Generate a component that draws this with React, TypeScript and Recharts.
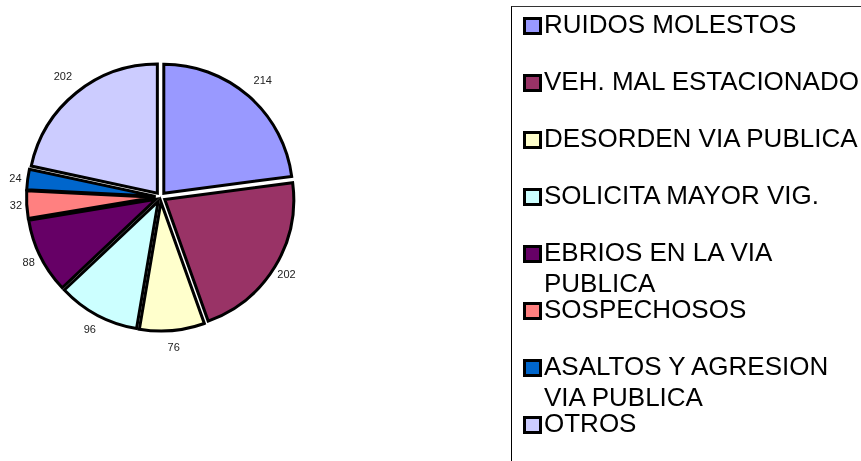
import React from "react";
import { PieChart, Pie, Cell, Legend, Sector } from "recharts";

const categories = [
  "RUIDOS MOLESTOS",
  "VEH. MAL ESTACIONADO",
  "DESORDEN VIA PUBLICA",
  "SOLICITA MAYOR VIG.",
  "EBRIOS EN LA VIA PUBLICA",
  "SOSPECHOSOS",
  "ASALTOS Y AGRESION VIA PUBLICA",
  "OTROS",
];
const values = [214, 202, 76, 96, 88, 32, 24, 202];
const colors = ["#9999FF", "#993366", "#FFFFCC", "#CCFFFF", "#660066", "#FF8080", "#0066CC", "#CCCCFF"];

const data = categories.map((name, i) => ({ name, value: values[i] }));

const RAD = Math.PI / 180;
const EXPLODE = 5;

const ExplodedSector = (props: any) => {
  const { cx, cy, midAngle } = props;
  const dx = EXPLODE * Math.cos(midAngle * RAD);
  const dy = -EXPLODE * Math.sin(midAngle * RAD);
  return <Sector {...props} cx={cx + dx} cy={cy + dy} />;
};

const renderLabel = (props: any) => {
  const { cx, cy, midAngle, outerRadius, value } = props;
  const s = Math.sin(midAngle * RAD);
  const c = Math.cos(midAngle * RAD);
  const r = EXPLODE + outerRadius + 10.5 + 10 * Math.abs(s) + 4 * s;
  const x = cx + r * c;
  const y = cy - r * s;
  return (
    <text
      x={x}
      y={y}
      textAnchor="middle"
      dominantBaseline="central"
      fontFamily="Liberation Sans, Arial, sans-serif"
      fontSize={11}
      fill="#222"
    >
      {value}
    </text>
  );
};

const renderLegend = (props: any) => {
  const payload = [...(props.payload || [])].sort(
    (a: any, b: any) => categories.indexOf(a.value) - categories.indexOf(b.value)
  );
  return (
    <div
      style={{
        position: "relative",
        width: 350,
        height: 455,
        borderLeft: "1px solid #000",
        borderTop: "1px solid #333",
        boxSizing: "border-box",
        fontFamily: "Liberation Sans, Arial, sans-serif",
        fontSize: 26,
        lineHeight: "31px",
        color: "#000",
      }}
    >
      {payload.map((entry: any, i: number) => (
        <div
          key={i}
          style={{
            position: "absolute",
            left: 0,
            top: 1.8 + i * 57.05,
            width: 348,
          }}
        >
          <div
            style={{
              position: "absolute",
              left: 11,
              top: 8,
              width: 19,
              height: 18,
              boxSizing: "border-box",
              border: "3px solid #000",
              background: entry.color,
            }}
          />
          <div style={{ marginLeft: 32, width: 318, whiteSpace: "normal" }}>{entry.value}</div>
        </div>
      ))}
    </div>
  );
};

export default function App() {
  return (
    <div style={{ position: "fixed", left: 0, top: 0, width: 861, height: 461, overflow: "hidden" }}>
      <PieChart width={861} height={461} margin={{ top: 0, right: 0, bottom: 0, left: 0 }}>
        <Pie
          data={data}
          dataKey="value"
          nameKey="name"
          cx={160.5}
          cy={197}
          outerRadius={129}
          startAngle={90}
          endAngle={-270}
          stroke="#000"
          strokeWidth={3}
          label={renderLabel}
          labelLine={false}
          isAnimationActive={false}
          shape={ExplodedSector}
        >
          {data.map((d, i) => (
            <Cell key={d.name} fill={colors[i]} />
          ))}
        </Pie>
        <Legend
          content={renderLegend}
          wrapperStyle={{ position: "absolute", left: 511, top: 6, width: 350, height: 455 }}
        />
      </PieChart>
    </div>
  );
}
